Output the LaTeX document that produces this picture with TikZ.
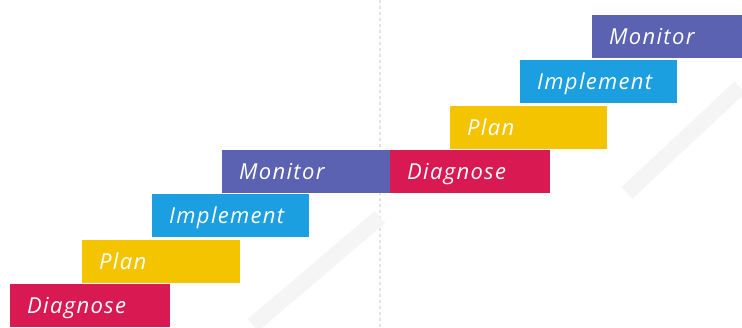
\documentclass[tikz,border=0pt]{standalone}
\usepackage{fontspec}
\setsansfont{Open Sans}[LetterSpace=6]
\definecolor{diagred}{HTML}{D91A52}
\definecolor{planyellow}{HTML}{F5C400}
\definecolor{implblue}{HTML}{1C9FE0}
\definecolor{monslate}{HTML}{5C62B2}
\begin{document}
\begin{tikzpicture}[x=1pt,y=-1pt,
    stepbox/.style={anchor=north west, inner xsep=17pt, inner ysep=0pt,
        minimum height=43pt, text=white, align=left,
        text height=16pt, text depth=0pt,
        font=\sffamily\itshape\fontsize{22}{22}\selectfont}]
\useasboundingbox (0,0) rectangle (742,327);
% faint marks behind the steps
\draw[gray!22, dashed, line width=1.2pt] (380,0)--(380,327);
\draw[gray!8, line width=16pt] (253,325)--(380,217);
\draw[gray!8, line width=16pt] (627,193)--(740,87);
% the steps
\foreach \name/\x/\y/\w/\col/\txt in {
    diagA/10/284/160/diagred/Diagnose,
    planA/82/240/158/planyellow/Plan,
    implA/152/194/157/implblue/Implement,
    monA/222/150/168/monslate/Monitor,
    diagB/390/150/160/diagred/Diagnose,
    planB/450/106/157/planyellow/Plan,
    implB/520/60/157/implblue/Implement,
    monB/592/15/150/monslate/Monitor}
{
    \pgfmathsetmacro\tw{\w-34}
    \node[stepbox, fill=\col, text width=\tw pt] (\name) at (\x,\y) {\txt};
}
\end{tikzpicture}
\end{document}
